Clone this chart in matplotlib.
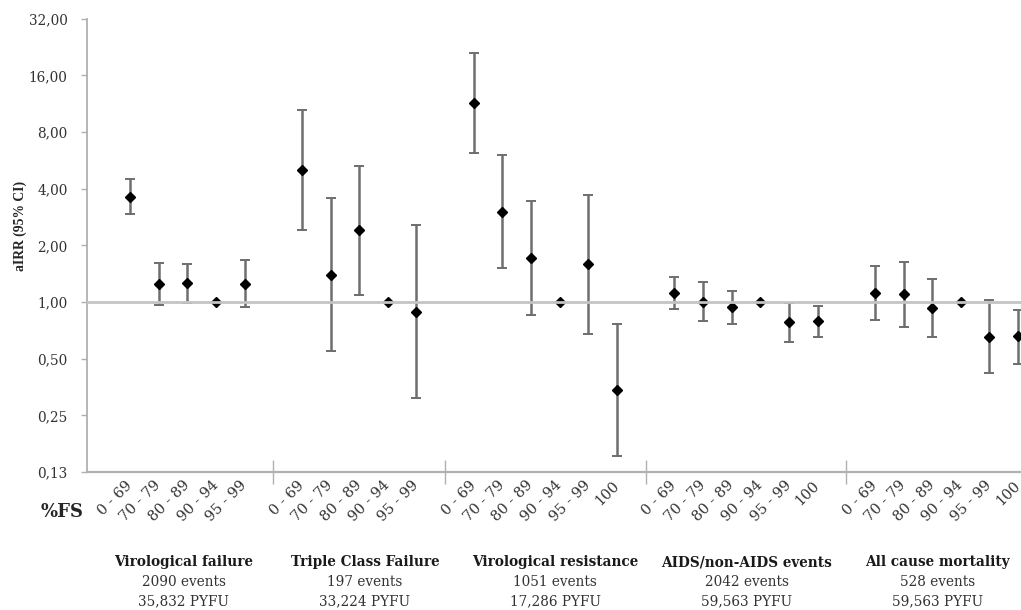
import matplotlib
matplotlib.use("Agg")
import matplotlib.pyplot as plt
import matplotlib.transforms as mtransforms
from matplotlib.ticker import FixedLocator, FixedFormatter, NullFormatter

# ---------------- data ----------------
cats5 = ['0 - 69', '70 - 79', '80 - 89', '90 - 94', '95 - 99']
cats6 = ['0 - 69', '70 - 79', '80 - 89', '90 - 94', '95 - 99', '100']

vf_irr = [3.61, 1.25, 1.26, 1.00, 1.25]
vf_lo = [2.93, 0.96, 0.99, 1.00, 0.94]
vf_hi = [4.49, 1.61, 1.60, 1.00, 1.67]

tcf_irr = [5.03, 1.40, 2.40, 1.00, 0.89]
tcf_lo = [2.42, 0.55, 1.09, 1.00, 0.31]
tcf_hi = [10.5, 3.56, 5.31, 1.00, 2.58]

vr_irr = [11.47, 3.00, 1.71, 1.00, 1.59, 0.34]
vr_lo = [6.22, 1.51, 0.85, 1.00, 0.68, 0.152]
vr_hi = [21.1, 6.02, 3.43, 1.00, 3.70, 0.76]

aids_irr = [1.12, 1.00, 0.94, 1.00, 0.78, 0.79]
aids_lo = [0.92, 0.79, 0.76, 1.00, 0.61, 0.65]
aids_hi = [1.36, 1.27, 1.15, 1.00, 0.99, 0.95]

mort_irr = [1.11, 1.10, 0.93, 1.00, 0.655, 0.66]
mort_lo = [0.80, 0.74, 0.65, 1.00, 0.42, 0.47]
mort_hi = [1.55, 1.63, 1.33, 1.00, 1.02, 0.91]

group_names = ['Virological failure', 'Triple Class Failure', 'Virological resistance',
               'AIDS/non-AIDS events', 'All cause mortality']
group_events = ['2090 events', '197 events', '1051 events', '2042 events', '528 events']
group_pyfu = ['35,832 PYFU', '33,224 PYFU', '17,286 PYFU', '59,563 PYFU', '59,563 PYFU']

y_ticks = [0.125, 0.25, 0.5, 1, 2, 4, 8, 16, 32]
y_ticklabels = ['0,13', '0,25', '0,50', '1,00', '2,00', '4,00', '8,00', '16,00', '32,00']

groups = [
    (cats5, vf_irr, vf_lo, vf_hi),
    (cats5, tcf_irr, tcf_lo, tcf_hi),
    (cats6, vr_irr, vr_lo, vr_hi),
    (cats6, aids_irr, aids_lo, aids_hi),
    (cats6, mort_irr, mort_lo, mort_hi),
]

# ---------------- layout ----------------
W, H = 1021, 610
FONT = 'DejaVu Serif'
label_x = [2.88, 9.2, 15.85, 22.52, 29.2]

fig = plt.figure(figsize=(W / 100, H / 100), dpi=100)
ax = fig.add_axes([87 / W, 1 - 472 / H, (W - 87) / W, (472 - 18.7) / H])

ax.set_yscale('log', base=2)
ax.set_ylim(0.125, 32)
ax.set_xlim(-0.5, 32.1)

pos = 0
xticks, xlabels, seps = [], [], []
for cats, irr, lo, hi in groups:
    seps.append(pos)
    pos += 1
    xs = list(range(pos, pos + len(cats)))
    pos += len(cats)
    yerr = [[v - l for v, l in zip(irr, lo)], [h - v for v, h in zip(irr, hi)]]
    ax.errorbar(xs, irr, yerr=yerr, fmt='none', ecolor='#6e6e6e', elinewidth=1.8,
                capsize=3.5, capthick=1.4, zorder=2)
    ax.plot(xs, irr, linestyle='none', marker='D', markersize=5.3,
            color='black', zorder=3)
    xticks += xs
    xlabels += cats

# reference line at 1
ax.axhline(1.0, color='#c4c4c4', lw=2.0, zorder=4)

# spines
for s in ['top', 'right']:
    ax.spines[s].set_visible(False)
ax.spines['left'].set_color('#b0b0b0')
ax.spines['left'].set_linewidth(1.3)
ax.spines['bottom'].set_color('#b0b0b0')
ax.spines['bottom'].set_linewidth(1.6)

# y ticks
ax.yaxis.set_major_locator(FixedLocator(y_ticks))
ax.yaxis.set_major_formatter(FixedFormatter(y_ticklabels))
ax.yaxis.set_minor_formatter(NullFormatter())
ax.yaxis.set_minor_locator(FixedLocator([]))
ax.tick_params(axis='y', which='major', direction='out', length=4, width=1,
               color='#b0b0b0', labelsize=9.8, labelcolor='#333333', pad=10)
for t in ax.get_yticklabels():
    t.set_fontfamily(FONT)

# x ticks: category labels (no tick marks) and separators (minor ticks)
ax.set_xticks(xticks)
ax.set_xticklabels(xlabels, rotation=45, ha='right', va='center',
                   rotation_mode='anchor', fontfamily=FONT, fontsize=10.5,
                   color='#333333')
offset = mtransforms.ScaledTranslation(3 / 100, 0, fig.dpi_scale_trans)
for t in ax.get_xticklabels():
    t.set_transform(t.get_transform() + offset)
ax.tick_params(axis='x', which='major', length=0, pad=8)
ax.set_xticks(seps[1:], minor=True)
ax.tick_params(axis='x', which='minor', direction='inout', length=17, width=1,
               color='#b0b0b0')

# axis labels
fig.text(20 / W, 1 - 226 / H, 'aIRR (95% CI)', rotation=90, ha='center', va='center',
         fontfamily='Liberation Serif', fontweight='bold', fontsize=9.8, color='#262626')
fig.text(62 / W, 1 - 512 / H, '%FS', ha='center', va='center',
         fontfamily=FONT, fontweight='bold', fontsize=13, color='#262626')

# group labels
tr = mtransforms.blended_transform_factory(ax.transData, fig.transFigure)
for gx, name, ev, py in zip(label_x, group_names, group_events, group_pyfu):
    ax.text(gx, 1 - 562 / H, name, transform=tr, ha='center', va='center',
            fontfamily=FONT, fontweight='bold', fontsize=9.8, color='#1a1a1a',
            clip_on=False)
    ax.text(gx, 1 - 582 / H, ev, transform=tr, ha='center', va='center',
            fontfamily=FONT, fontsize=9.8, color='#333333', clip_on=False)
    ax.text(gx, 1 - 601 / H, py, transform=tr, ha='center', va='center',
            fontfamily=FONT, fontsize=9.8, color='#333333', clip_on=False)

fig.savefig('out.png', dpi=100, facecolor='white')
